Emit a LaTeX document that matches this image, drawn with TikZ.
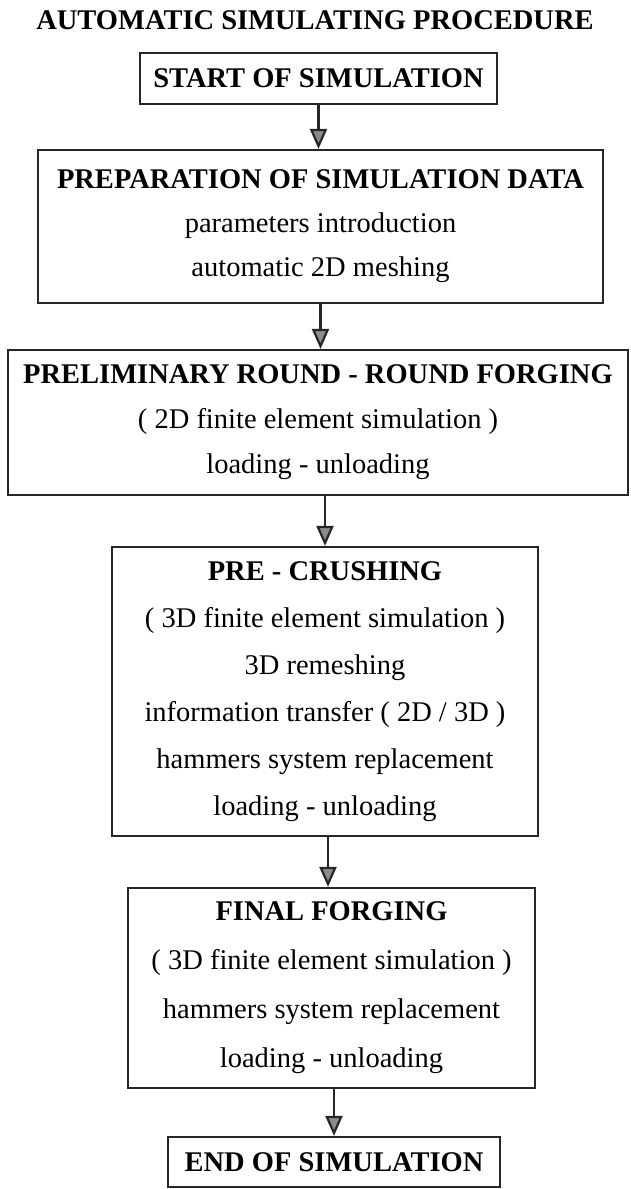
\documentclass[tikz,border=0pt]{standalone}
\usepackage{fontspec}
\setmainfont{Liberation Serif}
\usetikzlibrary{arrows.meta}

\begin{document}
\begin{tikzpicture}[x=1pt, y=-1pt,
    >={Triangle[length=20pt, width=17pt, fill=black!45]},
    box/.style={draw=black!85, line width=2.2pt, align=center, inner sep=0pt},
    ttl/.style={font=\fontsize{28.5}{34}\selectfont\bfseries, inner sep=0pt},
    arr/.style={->, line width=2.2pt, draw=black!85}]
  \useasboundingbox (0,0) rectangle (630,1189);

  % title
  \node[ttl, anchor=base] (title) at (315,29) {AUTOMATIC SIMULATING PROCEDURE};

  % boxes
  \node[box, font=\fontsize{28.5}{34}\selectfont, minimum width=357pt, minimum height=51pt]
       (start) at (318.5,78.5) {\textbf{START OF SIMULATION}};
  \node[box, font=\fontsize{28.5}{44}\selectfont, minimum width=565pt, minimum height=153pt]
       (prep) at (320.5,226.5) {\textbf{PREPARATION OF SIMULATION DATA}\\
       parameters introduction\\ automatic 2D meshing};
  \node[box, font=\fontsize{28.5}{45}\selectfont, minimum width=620pt, minimum height=145pt]
       (round) at (318,422.5) {\textbf{PRELIMINARY ROUND - ROUND FORGING}\\
       ( 2D finite element simulation )\\ loading - unloading};
  \node[box, font=\fontsize{28.5}{47}\selectfont, minimum width=426pt, minimum height=289pt]
       (crush) at (325,691.5) {\textbf{PRE - CRUSHING}\\
       ( 3D finite element simulation )\\ 3D remeshing\\
       information transfer ( 2D / 3D )\\ hammers system replacement\\
       loading - unloading};
  \node[box, font=\fontsize{28.5}{49}\selectfont, minimum width=407pt, minimum height=200pt]
       (final) at (331.5,988) {\textbf{FINAL FORGING}\\
       ( 3D finite element simulation )\\ hammers system replacement\\
       loading - unloading};
  \node[box, font=\fontsize{28.5}{34}\selectfont, minimum width=332pt, minimum height=50pt]
       (end) at (334,1162) {\textbf{END OF SIMULATION}};

  % arrows
  \draw[arr] (start.south) -- (start.south |- prep.north);
  \draw[arr] (prep.south) -- (prep.south |- round.north);
  \draw[arr] (crush.north |- round.south) -- (crush.north);
  \draw[arr] ([xshift=3pt]crush.south) -- ([xshift=3pt]crush.south |- final.north);
  \draw[arr] (end.north |- final.south) -- (end.north);
\end{tikzpicture}
\end{document}
